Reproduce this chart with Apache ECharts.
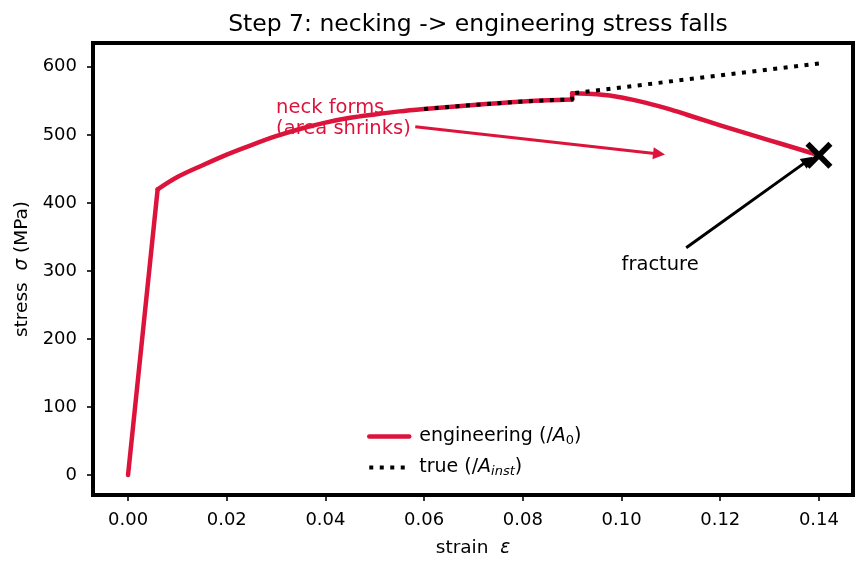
<!DOCTYPE html>
<html>
<head>
<meta charset="utf-8">
<script src="https://cdn.jsdelivr.net/npm/echarts@6/dist/echarts.min.js"></script>
<style>
    html, body { margin: 0; padding: 0; background: #fff; }
    #chart { width: 866px; height: 569px; }
</style>
</head>
<body>
<div id="chart"></div>
<script>
// engineering curve (stress on original area), in three pieces
const elasticStrain = [0, 0.006];
const elasticStress = [0, 420];
const hardenStrain = [0.006, 0.01, 0.015, 0.02, 0.025, 0.03, 0.035, 0.04, 0.045, 0.05, 0.055, 0.06, 0.065, 0.07, 0.075, 0.08, 0.085, 0.09];
const hardenStress = [420, 438, 455, 471, 485, 498, 509, 518, 525, 530, 534.5, 538, 541, 544, 546.5, 549, 550.8, 552];
const neckStrain = [0.09, 0.095, 0.1, 0.105, 0.11, 0.115, 0.12, 0.125, 0.13, 0.135, 0.14];
const neckStress = [561, 559.5, 555, 547, 537, 525.5, 514, 503, 492, 481, 470];
// true curve (stress on instantaneous area)
const trueStrain = [0.06, 0.065, 0.07, 0.075, 0.08, 0.085, 0.09, 0.09, 0.14];
const trueStress = [538, 541, 544, 546.5, 549, 550.8, 552, 561, 605];

const xTicks = [0, 0.02, 0.04, 0.06, 0.08, 0.1, 0.12, 0.14];
const yTicks = [0, 100, 200, 300, 400, 500, 600];

// annotations (data coords)
const fracturePt = [0.14, 470];
const neckText = [0.03, 500];
const neckArrow = [[0.0582, 512], [0.1076, 472]];
const fracText = [0.1, 300];
const fracArrow = [[0.1131, 334], [0.1378, 462.5]];

const RED = "#DC143C";
const FONT = "DejaVu Sans";

const chart = echarts.init(document.getElementById("chart"));

const zip = (xs, ys) => xs.map((x, i) => [x, ys[i]]);

const engLine = (data, smooth) => ({
    name: "engineering",
    type: "line",
    data: data,
    showSymbol: false,
    symbol: "none",
    smooth: smooth,
    color: RED,
    lineStyle: { color: RED, width: 4.5, cap: "round", join: "round" },
    z: 2,
});

const option = {
    animation: false,
    textStyle: { fontFamily: FONT },
    title: {
        text: "Step 7: necking -> engineering stress falls",
        left: 473,
        textAlign: "center",
        top: 8,
        textStyle: { fontFamily: FONT, fontSize: 23.5, fontWeight: "normal", color: "#000" },
    },
    grid: {
        left: 93, right: 13, top: 43, bottom: 74,
        show: true, borderColor: "#000", borderWidth: 4,
    },
    legend: {
        orient: "vertical",
        left: 362,
        top: 422,
        itemWidth: 40,
        itemHeight: 14,
        itemGap: 11,
        itemStyle: { opacity: 0 },
        data: [
            { name: "engineering", lineStyle: { width: 4.5 } },
            { name: "true", lineStyle: { width: 4 } },
        ],
        textStyle: {
            fontFamily: FONT, fontSize: 19, color: "#000", padding: [0, 0, 0, 5],
            rich: {
                i: { fontFamily: FONT, fontSize: 19, fontStyle: "italic", color: "#000" },
                sub: { fontFamily: FONT, fontSize: 13, color: "#000", padding: [8, 0, 0, 0] },
                subi: { fontFamily: FONT, fontSize: 13, fontStyle: "italic", color: "#000", padding: [8, 0, 0, 0] },
            },
        },
        formatter: (name) => name === "engineering"
            ? "engineering (/{i|A}{sub|0})"
            : "true (/{i|A}{subi|inst})",
    },
    xAxis: {
        type: "value",
        min: -0.0071,
        max: 0.1469,
        splitLine: { show: false },
        axisLine: { show: false, onZero: false },
        axisTick: { show: true, inside: false, length: 6, lineStyle: { color: "#000", width: 1.6 }, customValues: xTicks },
        axisLabel: {
            customValues: xTicks, color: "#000", fontSize: 18, fontFamily: FONT, margin: 16,
            formatter: (v) => v.toFixed(2),
        },
        name: "strain  {i|ε}",
        nameLocation: "middle",
        nameGap: 44,
        nameTextStyle: {
            fontFamily: FONT, fontSize: 18.5, color: "#000",
            rich: { i: { fontFamily: FONT, fontSize: 18.5, fontStyle: "italic", color: "#000" } },
        },
    },
    yAxis: {
        type: "value",
        min: -29.4,
        max: 635,
        splitLine: { show: false },
        axisLine: { show: false, onZero: false },
        axisTick: { show: true, inside: false, length: 6, lineStyle: { color: "#000", width: 1.6 }, customValues: yTicks },
        axisLabel: {
            customValues: yTicks, color: "#000", fontSize: 18, fontFamily: FONT, margin: 16,
            formatter: (v) => String(Math.round(v)),
        },
        name: "stress  {i|σ} (MPa)",
        nameLocation: "middle",
        nameGap: 57,
        nameTextStyle: {
            fontFamily: FONT, fontSize: 18.5, color: "#000",
            rich: { i: { fontFamily: FONT, fontSize: 18.5, fontStyle: "italic", color: "#000" } },
        },
    },
    series: [
        engLine(zip(elasticStrain, elasticStress), false),
        engLine(zip(hardenStrain, hardenStress), 0.3),
        engLine([[hardenStrain[hardenStrain.length - 1], hardenStress[hardenStress.length - 1]], [neckStrain[0], neckStress[0]]], false),
        engLine(zip(neckStrain, neckStress), 0.3),
        {
            name: "true",
            type: "line",
            data: zip(trueStrain, trueStress),
            showSymbol: false,
            symbol: "none",
            color: "#000",
            lineStyle: { color: "#000", width: 4, type: [4, 6.5] },
            z: 3,
        },
        {
            // fracture marker + annotation arrows
            type: "scatter",
            data: [fracturePt],
            symbol: "path://M3,0 L10,7 L17,0 L20,3 L13,10 L20,17 L17,20 L10,13 L3,20 L0,17 L7,10 L0,3 Z",
            symbolSize: 27,
            itemStyle: { color: "#000", opacity: 1 },
            z: 5,
            silent: true,
            markLine: {
                silent: true,
                symbol: ["none", "triangle"],
                symbolSize: 12,
                label: { show: false },
                data: [
                    [
                        { coord: neckArrow[0], lineStyle: { color: RED, width: 3, type: "solid", opacity: 1 }, itemStyle: { color: RED } },
                        { coord: neckArrow[1] },
                    ],
                    [
                        { coord: fracArrow[0], lineStyle: { color: "#000", width: 3, type: "solid", opacity: 1 }, itemStyle: { color: "#000" } },
                        { coord: fracArrow[1] },
                    ],
                ],
            },
        },
        {
            // annotation texts
            type: "scatter",
            symbolSize: 0,
            silent: true,
            itemStyle: { opacity: 1 },
            data: [
                { value: neckText, label: { formatter: "neck forms\n(area shrinks)", color: RED } },
                { value: fracText, label: { formatter: "fracture", color: "#000" } },
            ],
            label: {
                show: true,
                position: [0, 0],
                align: "left",
                verticalAlign: "bottom",
                offset: [0, 5],
                fontFamily: FONT,
                fontSize: 19.5,
                lineHeight: 21,
            },
        },
    ],
};

chart.setOption(option);
</script>
</body>
</html>
